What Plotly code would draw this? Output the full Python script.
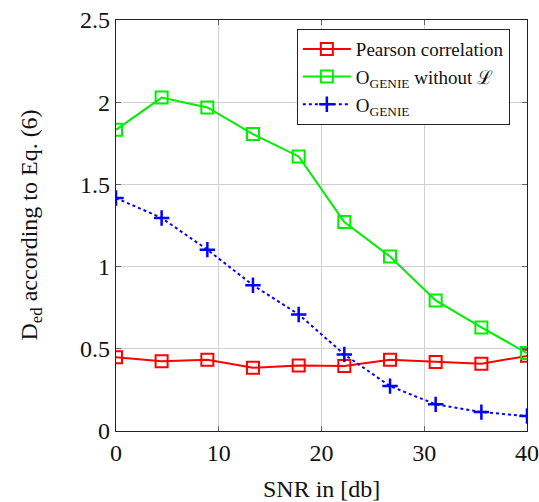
import plotly.graph_objects as go

snr = [0, 4.44, 8.89, 13.33, 17.78, 22.22, 26.67, 31.11, 35.56, 40]
pearson = [0.449, 0.425, 0.433, 0.385, 0.399, 0.395, 0.433, 0.419, 0.409, 0.457]
ogenie_wo = [1.832, 2.028, 1.968, 1.806, 1.670, 1.271, 1.061, 0.794, 0.630, 0.474]
ogenie = [1.417, 1.296, 1.103, 0.887, 0.709, 0.466, 0.273, 0.162, 0.115, 0.091]

names = ["Pearson correlation", "O<sub>GENIE</sub> without ℒ", "O<sub>GENIE</sub>"]
x_ticks = [0, 10, 20, 30, 40]
y_ticks = [0, 0.5, 1, 1.5, 2, 2.5]
y_tick_text = ["0", "0.5", "1", "1.5", "2", "2.5"]
x_title = "SNR in [db]"
y_title = "D<sub>ed</sub> according to Eq. (6)"

font = "Liberation Serif, Times New Roman, serif"

fig = go.Figure()
fig.add_trace(go.Scatter(
    x=snr, y=pearson, name=names[0], mode="lines+markers",
    line=dict(color="#ff0000", width=2),
    marker=dict(symbol="square-open", size=12, color="#ff0000", line=dict(width=2)),
))
fig.add_trace(go.Scatter(
    x=snr, y=ogenie_wo, name=names[1], mode="lines+markers",
    line=dict(color="#00ee00", width=2),
    marker=dict(symbol="square-open", size=12, color="#00ee00", line=dict(width=2)),
))
fig.add_trace(go.Scatter(
    x=snr, y=ogenie, name=names[2], mode="lines+markers",
    line=dict(color="#0000ff", width=2, dash="dot"),
    marker=dict(symbol="cross-thin", size=11, color="#0000ff", line=dict(width=2.5, color="#0000ff")),
))

axis_common = dict(
    showline=True, mirror="ticks", linecolor="#222", linewidth=1.2,
    showgrid=True, gridcolor="#d0d0d0", gridwidth=1,
    ticks="inside", ticklen=5, tickcolor="#666",
    zeroline=False, automargin=False,
    tickfont=dict(family=font, size=24, color="#111"),
)

fig.update_layout(
    width=539, height=502,
    margin=dict(l=116, r=12, t=20, b=71),
    plot_bgcolor="white", paper_bgcolor="white",
    font=dict(family=font, color="#111"),
    showlegend=True,
    legend=dict(
        x=0.44, y=0.978, xanchor="left", yanchor="top",
        bordercolor="#222", borderwidth=1, bgcolor="white",
        font=dict(family=font, size=19, color="#111"),
        itemwidth=48, entrywidth=165, entrywidthmode="pixels",
    ),
    xaxis=dict(range=[0, 40], tickvals=x_ticks, **axis_common),
    yaxis=dict(range=[0, 2.5], tickvals=y_ticks, ticktext=y_tick_text, **axis_common),
    annotations=[
        dict(text=x_title, xref="paper", yref="paper", x=0.5, y=0,
             xanchor="center", yanchor="middle", yshift=-58, showarrow=False,
             font=dict(family=font, size=24, color="#111")),
        dict(text=y_title, xref="paper", yref="paper", x=0, y=0.5,
             xanchor="center", yanchor="middle", xshift=-86, textangle=-90, showarrow=False,
             font=dict(family=font, size=24, color="#111")),
    ],
)

fig.write_html("out.html", config={"displayModeBar": False},
               post_script="document.body.style.margin='0';")
